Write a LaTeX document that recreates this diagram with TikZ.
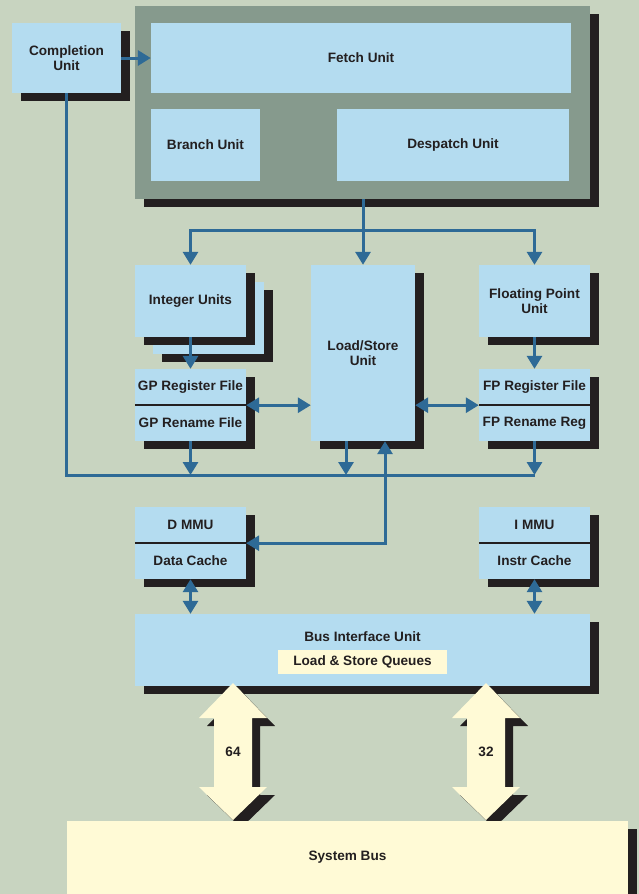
\documentclass[tikz,border=0pt]{standalone}
\usepackage{fontspec}
\setsansfont{Liberation Sans}
\usepackage{xcolor}
\usepackage{tikz}
\usetikzlibrary{arrows.meta, shadows}

\definecolor{paper}{RGB}{200,212,192}
\definecolor{unitblue}{RGB}{180,220,240}
\definecolor{panelgreen}{RGB}{134,154,141}
\definecolor{ink}{RGB}{35,31,32}
\definecolor{wireblue}{RGB}{46,106,150}
\definecolor{cream}{RGB}{255,250,214}

\begin{document}
\begin{tikzpicture}[
  x=1pt, y=-1pt,
  font=\sffamily\bfseries\fontsize{13.6}{15}\selectfont,
  >={Triangle[width=15pt,length=13pt]},
  unit/.style={
    fill=unitblue,
    text=ink,
    inner sep=0pt,
    align=center,
    drop shadow={shadow xshift=9pt, shadow yshift=-8pt, opacity=1, fill=ink}
  },
  inner/.style={
    fill=unitblue,
    text=ink,
    inner sep=0pt,
    align=center
  },
  panel/.style={
    fill=panelgreen,
    inner sep=0pt,
    drop shadow={shadow xshift=9pt, shadow yshift=-8pt, opacity=1, fill=ink}
  },
  wire/.style={
    draw=wireblue,
    line width=3pt
  },
  divider/.style={
    draw=ink,
    line width=1.5pt
  },
  lbl/.style={
    text=ink,
    inner sep=0pt
  }
]

% Background
\fill[paper] (0,0) rectangle (639,894);
\useasboundingbox (0,0) rectangle (639,894);

% Completion unit and the fetch/despatch block
\node[unit, minimum width=109pt, minimum height=70pt] (comp) at (66.5,58) {Completion\\Unit};
\node[panel, minimum width=455pt, minimum height=193pt] (panel) at (362.5,102.5) {};
\node[inner, minimum width=420pt, minimum height=70pt] (fetch) at (361,58) {Fetch Unit};
\node[inner, minimum width=109pt, minimum height=72pt] (branch) at (205.5,145) {Branch Unit};
\node[inner, minimum width=232pt, minimum height=72pt] (desp) at (453,145) {Despatch Unit};

% Execution units
\node[unit, minimum width=111pt, minimum height=72pt] (intback) at (208.5,318) {};
\node[unit, minimum width=111pt, minimum height=72pt] (intu) at (190.5,301) {Integer Units};
\node[unit, minimum width=104pt, minimum height=176pt] (ls) at (363,353) {Load/Store\\Unit};
\node[unit, minimum width=111pt, minimum height=72pt] (fpu) at (534.5,301) {Floating Point\\Unit};

% Register files
\node[unit, minimum width=111pt, minimum height=36pt] (gpreg) at (190.5,387) {GP Register File};
\node[unit, minimum width=111pt, minimum height=36pt] (gpren) at (190.5,423) {GP Rename File};
\draw[divider] (gpreg.south west) -- (gpreg.south east);

\node[unit, minimum width=111pt, minimum height=36pt] (fpreg) at (534.5,387) {FP Register File};
\node[unit, minimum width=111pt, minimum height=36pt] (fpren) at (534.5,423) {FP Rename Reg};
\draw[divider] (fpreg.south west) -- (fpreg.south east);

% MMUs and caches
\node[unit, minimum width=111pt, minimum height=36pt] (dmmu) at (190.5,525) {D MMU};
\node[unit, minimum width=111pt, minimum height=36pt] (dcache) at (190.5,561) {Data Cache};
\draw[divider] (dmmu.south west) -- (dmmu.south east);

\node[unit, minimum width=111pt, minimum height=36pt] (immu) at (534.5,525) {I MMU};
\node[unit, minimum width=111pt, minimum height=36pt] (icache) at (534.5,561) {Instr Cache};
\draw[divider] (immu.south west) -- (immu.south east);

% Bus interface unit
\node[unit, minimum width=455pt, minimum height=72pt] (biu) at (362.5,650) {};
\node[lbl] (biulabel) at ([yshift=-23pt]biu.north) {Bus Interface Unit};
\node[inner, fill=cream, minimum width=169pt, minimum height=24pt] (queue) at (362.5,662) {Load \& Store Queues};

% Connectors
\coordinate (fork) at (363,230);
\coordinate (retire) at (534.5,475);
\coordinate (lsout) at ([xshift=-17pt]ls.south);
\coordinate (lsin) at ([xshift=22pt]ls.south);

\draw[wire, ->] (comp.east) -- (fetch.west);
\draw[wire] (comp.south) |- (retire);

\draw[wire, ->] (ls.north |- panel.south) -- (ls.north);
\draw[wire, ->] (fork) -| (intu.north);
\draw[wire, ->] (fork) -| (fpu.north);

\draw[wire, ->] (intu.south) -- (gpreg.north);
\draw[wire, ->] (fpu.south) -- (fpreg.north);

\draw[wire, <->] (gpreg.south east) -- (gpreg.south east -| ls.west);
\draw[wire, <->] (fpreg.south west -| ls.east) -- (fpreg.south west);

\draw[wire, ->] (gpren.south) -- (gpren.south |- retire);
\draw[wire, ->] (lsout) -- (lsout |- retire);
\draw[wire, ->] (fpren.south) -- (retire);

\draw[wire, <->] (dmmu.south east) -| (lsin);

\draw[wire, <->] (dcache.south) -- (dcache.south |- biu.north);
\draw[wire, <->] (icache.south) -- (icache.south |- biu.north);

% 64-bit data path
\fill[ink, xshift=8pt, yshift=-8pt] (233,683) -- (267,718) -- (252,718) -- (252,787) -- (267,787) -- (233,820) -- (199,787) -- (214,787) -- (214,718) -- (199,718) -- cycle;
\fill[cream] (233,683) -- (267,718) -- (252,718) -- (252,787) -- (267,787) -- (233,820) -- (199,787) -- (214,787) -- (214,718) -- (199,718) -- cycle;
\node[lbl] (w64) at (233,752) {64};

% 32-bit instruction path
\fill[ink, xshift=8pt, yshift=-8pt] (486,683) -- (520,718) -- (505,718) -- (505,787) -- (520,787) -- (486,820) -- (452,787) -- (467,787) -- (467,718) -- (452,718) -- cycle;
\fill[cream] (486,683) -- (520,718) -- (505,718) -- (505,787) -- (520,787) -- (486,820) -- (452,787) -- (467,787) -- (467,718) -- (452,718) -- cycle;
\node[lbl] (w32) at (486,752) {32};

% System bus
\node[unit, fill=cream, minimum width=561pt, minimum height=73pt] (sysbus) at (347.5,857.5) {System Bus};

\end{tikzpicture}
\end{document}
